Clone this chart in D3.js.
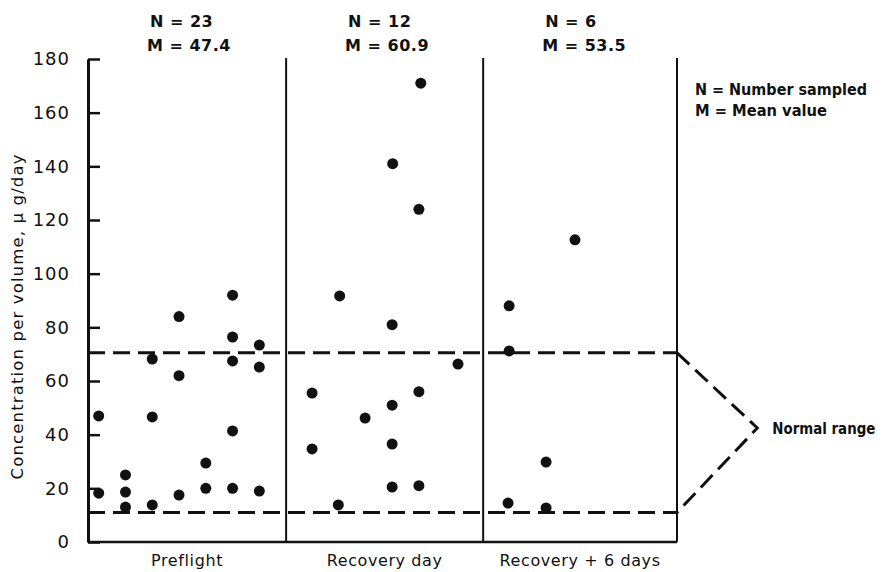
<!DOCTYPE html>
<html>
<head>
<meta charset="utf-8">
<script src="https://cdn.jsdelivr.net/npm/d3@7"></script>
<style>
  html, body { margin: 0; padding: 0; background: #fff; }
  svg { display: block; }
</style>
</head>
<body>
<svg id="chart" width="883" height="572"></svg>
<script>
// ---------------- data ----------------
const categories = ["Preflight", "Recovery day", "Recovery + 6 days"];
const groupN = [23, 12, 6];
const groupM = [47.4, 60.9, 53.5];
const yTicks = [0, 20, 40, 60, 80, 100, 120, 140, 160, 180];
const normalRange = [11, 70.5];
const normalLabel = "Normal range";
const legendLines = ["N = Number sampled", "M = Mean value"];
const yTitle = "Concentration per volume, \u03bc g/day";

// group boundaries along the horizontal sample-slot axis
const groupBounds = [0, 7.4, 14.76, 22];

// sample slot (horizontal position) and value of each plotted point
const preflightSlot  = [0.4, 0.4, 1.4, 1.4, 1.4, 2.4, 2.4, 2.4, 3.4, 3.4, 3.4, 4.4, 4.4, 5.4, 5.4, 5.4, 5.4, 5.4, 6.4, 6.4, 6.4];
const preflightValue = [47, 18.2, 25, 18.6, 13, 68.2, 46.6, 13.8, 84, 62, 17.5, 29.4, 20, 92, 76.4, 67.5, 41.4, 20, 73.4, 65.2, 19];

const recoverySlot  = [8.37, 8.37, 9.4, 9.35, 10.35, 11.38, 11.36, 11.36, 11.36, 11.36, 12.43, 12.36, 12.36, 12.36, 13.82];
const recoveryValue = [55.5, 34.7, 91.7, 13.8, 46.2, 141, 81, 51, 36.5, 20.5, 171, 124, 56, 21, 66.3];

const recovery6Slot  = [15.73, 15.73, 15.69, 17.11, 17.11, 18.19];
const recovery6Value = [88, 71.2, 14.5, 29.8, 12.7, 112.6];

const bracketTip = { slot: 25, value: 42.5 };

// ---------------- layout ----------------
const svg = d3.select("#chart");
const x = d3.scaleLinear().domain([0, 22]).range([88, 677]);
const y = d3.scaleLinear().domain([0, 180]).range([542, 59]);

const points = [
  ...preflightSlot.map((s, i) => ({ s, v: preflightValue[i] })),
  ...recoverySlot.map((s, i) => ({ s, v: recoveryValue[i] })),
  ...recovery6Slot.map((s, i) => ({ s, v: recovery6Value[i] }))
];

const ink = "#111";

// y axis with inward ticks
const yAxis = d3.axisLeft(y)
  .tickValues(yTicks)
  .tickSizeInner(-12)
  .tickSizeOuter(0)
  .tickPadding(18)
  .tickFormat(d3.format("d"));

const gy = svg.append("g").attr("transform", `translate(${x(0)},0)`).call(yAxis);
gy.select(".domain").attr("stroke", ink).attr("stroke-width", 3);
gy.selectAll(".tick line").attr("stroke", ink).attr("stroke-width", 2.5);
gy.selectAll(".tick text")
  .attr("fill", ink)
  .style("font-family", "'DejaVu Sans', sans-serif")
  .style("font-size", "18px")
  .style("letter-spacing", "1px");

// bottom axis line
svg.append("line")
  .attr("x1", x(0)).attr("x2", x(22))
  .attr("y1", y(0)).attr("y2", y(0))
  .attr("stroke", ink).attr("stroke-width", 2.5);

// group dividers + right border
svg.selectAll("line.divider")
  .data(groupBounds.slice(1))
  .join("line")
  .attr("class", "divider")
  .attr("x1", d => x(d)).attr("x2", d => x(d))
  .attr("y1", y(180) - 1).attr("y2", y(0))
  .attr("stroke", ink).attr("stroke-width", 2);

// normal range dashed lines
svg.selectAll("line.normal")
  .data(normalRange)
  .join("line")
  .attr("class", "normal")
  .attr("x1", x(0)).attr("x2", x(22))
  .attr("y1", d => y(d)).attr("y2", d => y(d))
  .attr("stroke", ink).attr("stroke-width", 3)
  .attr("stroke-dasharray", "17,8");

// bracket
svg.append("path")
  .attr("d", d3.line()([
    [x(22), y(normalRange[1])],
    [x(bracketTip.slot), y(bracketTip.value)],
    [x(22), y(normalRange[0])]
  ]))
  .attr("fill", "none")
  .attr("stroke", ink).attr("stroke-width", 3)
  .attr("stroke-dasharray", "17,8");

svg.append("text")
  .attr("x", x(bracketTip.slot) + 15)
  .attr("y", y(bracketTip.value))
  .attr("dy", "0.35em")
  .attr("textLength", 103)
  .attr("lengthAdjust", "spacingAndGlyphs")
  .style("font-family", "'DejaVu Sans Condensed', 'Liberation Sans Narrow', sans-serif")
  .style("font-weight", "bold")
  .style("font-size", "16px")
  .attr("fill", ink)
  .text(normalLabel);

// points
svg.selectAll("circle.pt")
  .data(points)
  .join("circle")
  .attr("class", "pt")
  .attr("cx", d => x(d.s))
  .attr("cy", d => y(d.v))
  .attr("r", 5.5)
  .attr("fill", ink);

// header N / M labels
const headerFont = "'DejaVu Sans', sans-serif";
categories.forEach((c, i) => {
  const left = x(groupBounds[i]) + 62;
  svg.append("text")
    .attr("x", left).attr("y", 27)
    .style("font-family", headerFont).style("font-weight", "bold").style("font-size", "16px")
    .style("letter-spacing", "0.5px")
    .attr("fill", ink)
    .text(`N = ${groupN[i]}`);
  svg.append("text")
    .attr("x", left - 3).attr("y", 51)
    .style("font-family", headerFont).style("font-weight", "bold").style("font-size", "16px")
    .style("letter-spacing", "0.5px")
    .attr("fill", ink)
    .text(`M = ${groupM[i]}`);
  // category label
  svg.append("text")
    .attr("x", x((groupBounds[i] + groupBounds[i + 1]) / 2))
    .attr("y", 566)
    .attr("text-anchor", "middle")
    .style("font-family", "'DejaVu Sans', sans-serif")
    .style("font-size", "16px")
    .style("letter-spacing", "0.6px")
    .attr("fill", ink)
    .text(c);
});

// legend
const legendWidths = [172, 132];
legendLines.forEach((t, i) => {
  svg.append("text")
    .attr("x", 695).attr("y", 95 + i * 21)
    .attr("textLength", legendWidths[i])
    .attr("lengthAdjust", "spacingAndGlyphs")
    .style("font-family", "'DejaVu Sans Condensed', 'Liberation Sans Narrow', sans-serif")
    .style("font-weight", "bold")
    .style("font-size", "16px")
    .attr("fill", ink)
    .text(t);
});

// y axis title
svg.append("text")
  .attr("transform", `translate(23,317) rotate(-90)`)
  .attr("text-anchor", "middle")
  .attr("textLength", 325)
  .attr("lengthAdjust", "spacing")
  .style("font-family", "'DejaVu Sans', sans-serif")
  .style("font-size", "16.5px")
  .attr("fill", ink)
  .text(yTitle);
</script>
</body>
</html>
